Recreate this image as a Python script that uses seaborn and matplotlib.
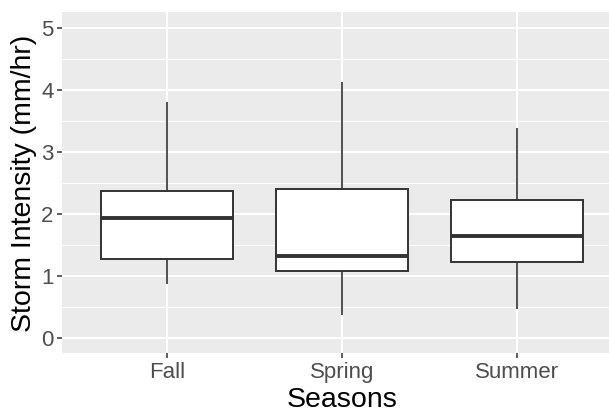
import numpy as np
import pandas as pd
import matplotlib
matplotlib.use("Agg")
import matplotlib.pyplot as plt
import seaborn as sns
from matplotlib.ticker import MultipleLocator

# Five-number summaries of storm intensity (mm/hr) per season
seasons = ["Fall", "Spring", "Summer"]
whisker_low = [0.86, 0.36, 0.46]
q1 = [1.27, 1.066, 1.215]
median = [1.93, 1.318, 1.63]
q3 = [2.37, 2.395, 2.22]
whisker_high = [3.80, 4.125, 3.38]

y_ticks = [0, 1, 2, 3, 4, 5]

rows = []
for i, s in enumerate(seasons):
    for v in (whisker_low[i], q1[i], median[i], q3[i], whisker_high[i]):
        rows.append({"Seasons": s, "Intensity": v})
df = pd.DataFrame(rows)

sns.set_theme(style="darkgrid")
plt.rcParams["font.family"] = ["Liberation Sans", "DejaVu Sans"]

fig = plt.figure(figsize=(6.09, 4.10), dpi=100)
ax = fig.add_axes([62 / 609, 1 - 354 / 410, 1 - 62 / 609, (354 - 13) / 410])
ax.set_facecolor("#EBEBEB")

edge = "#333333"
sns.boxplot(
    data=df, x="Seasons", y="Intensity", order=seasons, ax=ax,
    width=0.75, whis=np.inf, showcaps=False,
    color="white", linecolor=edge, linewidth=1.2,
    boxprops=dict(facecolor="white", edgecolor=edge, linewidth=1.4, zorder=3),
    whiskerprops=dict(color=edge, linewidth=1.2, zorder=3),
    medianprops=dict(color=edge, linewidth=2.8, zorder=4),
)

ax.set_ylim(-0.25, 5.25)
ax.set_xlim(-0.6, 2.525)
ax.set_yticks(y_ticks)
ax.set_yticklabels([str(t) for t in y_ticks])
ax.yaxis.set_minor_locator(MultipleLocator(0.5))

ax.grid(which="major", color="white", linewidth=1.5)
ax.grid(which="minor", axis="y", color="white", linewidth=0.7)
ax.set_axisbelow(True)
for sp in ax.spines.values():
    sp.set_visible(False)

ax.tick_params(axis="both", which="major", length=3.5, width=1.1, color=edge,
               labelcolor="#4D4D4D", labelsize=16, pad=2.5, left=True, bottom=True)
ax.tick_params(axis="both", which="minor", length=0)

ax.set_xlabel("Seasons", fontsize=20.5, color="black")
ax.set_ylabel("Storm Intensity (mm/hr)", fontsize=20.5, color="black")
ax.xaxis.set_label_coords((342 - 62) / 547, -0.098, transform=ax.transAxes)
ax.yaxis.set_label_coords(-0.046, 0.5, transform=ax.transAxes)

fig.savefig("out.png", dpi=100)
